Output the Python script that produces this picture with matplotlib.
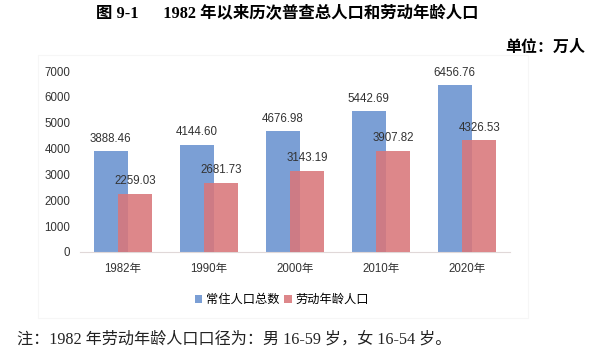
import matplotlib
matplotlib.use("Agg")
import matplotlib.pyplot as plt
from matplotlib.patches import Rectangle
import numpy as np

categories = ["1982年", "1990年", "2000年", "2010年", "2020年"]
total_pop = [3888.46, 4144.60, 4676.98, 5442.69, 6456.76]
labor_pop = [2259.03, 2681.73, 3143.19, 3907.82, 4326.53]
series_names = ["常住人口总数", "劳动年龄人口"]
yticks = [0, 1000, 2000, 3000, 4000, 5000, 6000, 7000]

SANS = ["Liberation Sans", "Noto Sans CJK SC"]
SERIF = ["Liberation Serif", "Noto Sans CJK SC"]

blue = "#7b9fd5"
red = "#d9777a"

fig = plt.figure(figsize=(6.0, 3.62), dpi=100)
W, H = 600, 362
ax = fig.add_axes([80 / W, 1 - 252 / H, 430 / W, (252 - 71) / H])

x = np.arange(len(categories))
w = 0.395
off = 0.143
b1 = ax.bar(x - off, total_pop, w, color=blue, zorder=2, label=series_names[0])
b2 = ax.bar(x + off, labor_pop, w, color=red, alpha=0.88, zorder=3, label=series_names[1])

for xi, v in zip(x, total_pop):
    ax.text(xi - off, v + 250, f"{v:.2f}", ha="center", va="bottom",
            fontsize=8.3, family=SANS, color="#333333")
for xi, v in zip(x, labor_pop):
    ax.text(xi + off, v + 250, f"{v:.2f}", ha="center", va="bottom",
            fontsize=8.3, family=SANS, color="#333333")

ax.set_xlim(-0.5, len(categories) - 0.5)
ax.set_ylim(0, 7000)
ax.set_yticks(yticks)
ax.set_yticklabels([str(t) for t in yticks], family=SANS, fontsize=8.3, color="#333333")
ax.set_xticks(x)
ax.set_xticklabels(categories, family=SANS, fontsize=8.3, color="#333333")
ax.tick_params(axis="both", length=0)
ax.tick_params(axis="y", pad=7)
ax.tick_params(axis="x", pad=8)
for s in ["top", "right", "left"]:
    ax.spines[s].set_visible(False)
ax.spines["bottom"].set_color("#e0d8d8")
ax.spines["bottom"].set_linewidth(0.8)

leg = fig.legend(handles=[b1, b2], labels=series_names, loc="center",
                 bbox_to_anchor=(282 / W, 1 - 300 / H), ncol=2, frameon=False,
                 prop={"family": SANS, "size": 8.8}, handlelength=0.6, handleheight=0.6,
                 handletextpad=0.3, columnspacing=0.4)

# faint chart frame
fig.patches.append(Rectangle((38 / W, 1 - 318 / H), (528 - 38) / W, (318 - 55) / H,
                             transform=fig.transFigure, fill=False,
                             edgecolor="#f6f6f6", linewidth=0.8))

fig.text(96 / W, 1 - 14 / H, "图 9-1      1982 年以来历次普查总人口和劳动年龄人口",
         ha="left", va="center", fontsize=11.8, fontweight="bold", family=SERIF)
fig.text(585 / W, 1 - 48 / H, "单位：万人", ha="right", va="center",
         fontsize=11.5, fontweight="bold", family=SERIF)
fig.text(17 / W, 1 - 340 / H, "注：1982 年劳动年龄人口口径为：男 16-59 岁，女 16-54 岁。",
         ha="left", va="center", fontsize=11.6, family=SERIF, color="#222222")

fig.savefig("out.png", dpi=100)
